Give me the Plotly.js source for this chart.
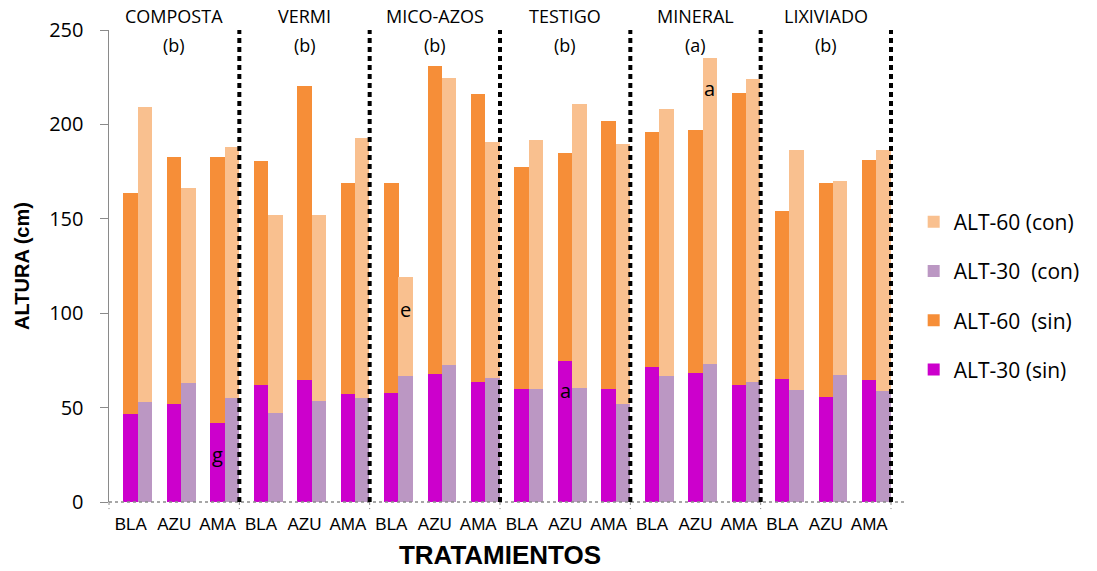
<!DOCTYPE html>
<html>
<head>
<meta charset="utf-8">
<script src="https://cdn.plot.ly/plotly-3.0.1.min.js"></script>
<style>html,body{margin:0;padding:0;background:#fff;}#chart{width:1097px;height:571px;}</style>
</head>
<body>
<div id="chart"></div>
<script>
const varieties = ['BLA','AZU','AMA'];
const groups = ['COMPOSTA','VERMI','MICO-AZOS','TESTIGO','MINERAL','LIXIVIADO'];
const groupLetters = ['(b)','(b)','(b)','(b)','(a)','(b)'];

const alt30sin = [46.8,51.9,41.9, 62.2,64.8,57.2, 57.8,67.8,63.4, 59.9,74.7,59.9, 71.6,68.4,62.2, 65.2,55.7,64.8];
const alt60sin = [163.8,182.9,182.5, 180.6,220.5,168.9, 168.7,231.1,216.1, 177.6,184.6,201.9, 195.9,197.0,216.4, 154.1,168.7,181.1];
const alt30con = [52.8,62.9,55.1, 47.2,53.7,55.3, 66.6,72.6,65.9, 59.7,60.4,52.1, 66.6,73.3,63.4, 59.4,67.3,58.7];
const alt60con = [209.0,166.1,188.0, 152.1,152.1,192.9, 119.1,224.6,190.6, 191.5,210.8,189.6, 208.3,235.2,223.9, 186.4,170.0,186.4];

// significance letters
const letterCat = [2, 6, 10, 13];
const letterSide = ['sin','con','sin','con'];
const letterY = [25, 102, 59, 219];
const letterText = ['g','e','a','a'];

const tickText = [];
groups.forEach(() => varieties.forEach(v => tickText.push(v)));
const xs = tickText.map((_, i) => i);

const SIN_OFF = -0.167, CON_OFF = 0.163, BW = 0.333;
const FONT = 'Open Sans, Noto Sans, sans-serif';
const ARIAL = 'Liberation Sans, Arial, sans-serif';

function barTrace(name, y, color, off, rank) {
  return {
    type: 'bar', name: name, x: xs, y: y, offset: off, width: BW,
    marker: {color: color, line: {width: 0}},
    legendrank: rank, legendgroup: name, hoverinfo: 'y'
  };
}

const data = [
  barTrace('ALT-60  (sin)', alt60sin, '#F68E38', SIN_OFF, 3),
  barTrace('ALT-30 (sin)', alt30sin, '#CC00CC', SIN_OFF, 4),
  barTrace('ALT-60 (con)', alt60con, '#F9C08F', CON_OFF, 1),
  barTrace('ALT-30  (con)', alt30con, '#BB97C3', CON_OFF, 2)
];

const shapes = [];
const nCat = xs.length;
shapes.push({type:'line', xref:'paper', yref:'paper', x0:0, x1:1.018, y0:0, y1:0,
  line:{color:'#8a8a8a', width:1.5, dash:'dot'}});
for (let g = 0; g <= groups.length; g++) {
  const xp = (g*3)/nCat;
  shapes.push({type:'line', xref:'paper', yref:'paper', x0:xp, x1:xp, y0:0, y1:-0.015,
    line:{color:'#8a8a8a', width:1, dash:'dot'}});
  if (g > 0) {
    shapes.push({type:'line', xref:'paper', yref:'paper', x0:xp, x1:xp, y0:0, y1:1,
      line:{color:'#000', width:4, dash:'5px,4px'}});
  }
}

const annotations = [];
groups.forEach((g, i) => {
  const xc = (i*3 + 1.5)/nCat;
  annotations.push({xref:'paper', yref:'paper', x:xc, y:1.0297, text:g, showarrow:false,
    xanchor:'center', yanchor:'middle', font:{family:FONT, size:18, color:'#000'}});
  annotations.push({xref:'paper', yref:'paper', x:xc, y:0.968, text:groupLetters[i], showarrow:false,
    xanchor:'center', yanchor:'middle', font:{family:FONT, size:18, color:'#000'}});
});
letterCat.forEach((c, i) => {
  const xo = letterSide[i] === 'sin' ? c + SIN_OFF + BW/2 : c + CON_OFF + BW/2;
  annotations.push({xref:'x', yref:'y', x:xo, y:letterY[i], text:letterText[i], showarrow:false,
    xanchor:'center', yanchor:'middle', font:{family:FONT, size:20, color:'#000'}});
});

const layout = {
  width: 1097, height: 571,
  margin: {l:109, r:206, t:30, b:69, pad:0},
  paper_bgcolor:'#fff', plot_bgcolor:'#fff',
  barmode: 'overlay', bargap: 0,
  showlegend: true,
  legend: {x:1.029, y:0.6365, xanchor:'left', yanchor:'top', traceorder:'grouped',
    tracegroupgap: 19, font:{family:FONT, size:21, color:'#000'}, bgcolor:'rgba(0,0,0,0)'},
  xaxis: {
    range:[-0.5, nCat-0.5], tickmode:'array', tickvals: xs, ticktext: tickText,
    showgrid:false, zeroline:false, showline:false, ticks:'', ticklabelstandoff: 10,
    tickfont:{family:ARIAL, size:17, color:'#000'},
    title:{text:'TRATAMIENTOS', standoff: 12,
      font:{family:ARIAL, size:26, color:'#000', weight:'bold'}}
  },
  yaxis: {
    range:[0,250], dtick:50, tick0:0, showgrid:false, zeroline:false,
    showline:true, linecolor:'#8a8a8a', linewidth:1.5, ticks:'outside', ticklen:8, tickcolor:'#8a8a8a',
    ticklabelstandoff: 12,
    tickfont:{family:FONT, size:20, color:'#000'},
    title:{text:'ALTURA (cm)', standoff: 14,
      font:{family:ARIAL, size:20, color:'#000', weight:'bold'}}
  },
  shapes: shapes,
  annotations: annotations
};

Plotly.newPlot('chart', data, layout, {displayModeBar:false, staticPlot:true});
</script>
</body>
</html>
